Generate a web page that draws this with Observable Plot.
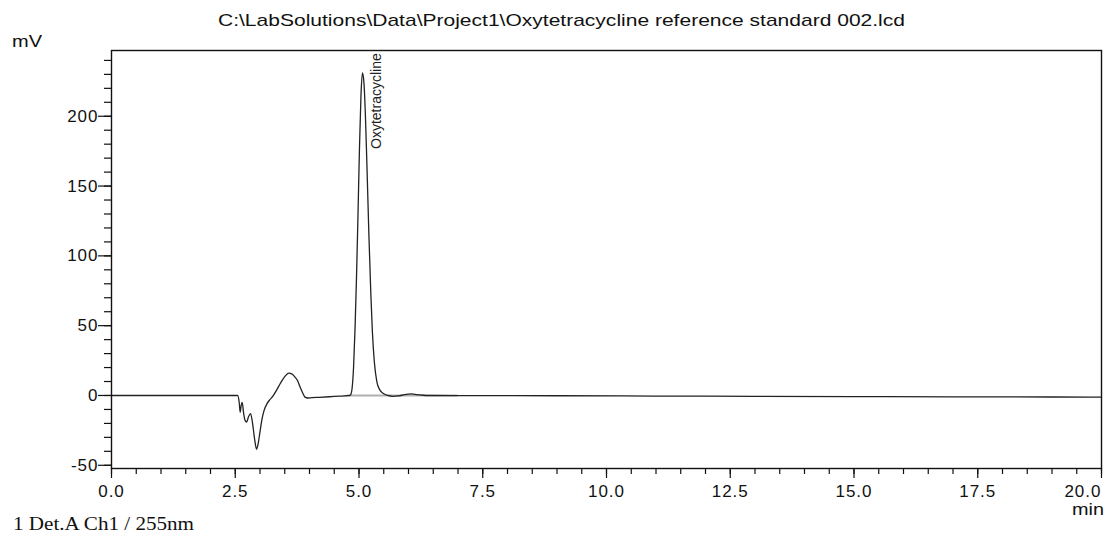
<!DOCTYPE html>
<html><head><meta charset="utf-8">
<script src="https://cdn.jsdelivr.net/npm/d3@7"></script>
<script src="https://cdn.jsdelivr.net/npm/@observablehq/plot@0.6"></script>
<style>
body{margin:0;background:#fff;}
#wrap{position:relative;width:1109px;height:536px;overflow:hidden;background:#fff;}
#wrap svg{position:absolute;left:0;top:0;}
g[aria-label$="tick label"] text{letter-spacing:1px;}
</style></head><body><div id="wrap"></div>
<script>
// ---- data ----
const titleText = "C:\\LabSolutions\\Data\\Project1\\Oxytetracycline reference standard 002.lcd";
const yUnit = "mV";
const xUnit = "min";
const caption = "1 Det.A Ch1 / 255nm";

const times = [0, 1.0, 2.0, 2.50, 2.55, 2.58, 2.60, 2.62, 2.64, 2.67, 2.70, 2.73, 2.77, 2.81, 2.85, 2.89, 2.93, 2.96, 3.00, 3.04, 3.08, 3.14, 3.20, 3.26, 3.33, 3.41, 3.50, 3.58, 3.64, 3.70, 3.76, 3.81, 3.86, 3.91, 3.96, 4.05, 4.20, 4.40, 4.60, 4.75, 4.80, 4.83, 4.86, 4.89, 4.92, 4.95, 4.98, 5.01, 5.04, 5.07, 5.10, 5.13, 5.16, 5.20, 5.24, 5.27, 5.31, 5.36, 5.42, 5.50, 5.58, 5.68, 5.80, 5.92, 6.05, 6.18, 6.35, 7.0, 9.0, 11.0, 13.0, 15.0, 17.0, 19.0, 20.0];
const signal = [0, 0, 0, 0, 0, -5, -12, -7, -5, -13, -18, -19, -15, -13, -20, -31, -38.5, -35, -26, -17, -11, -6, -3, -0.5, 3.5, 8.6, 13.5, 16, 15.5, 13.5, 10.5, 6, 2, -1.2, -1.8, -1.6, -1.3, -0.9, -0.5, -0.2, -0.1, 0.5, 5, 20, 48, 85, 130, 178, 215, 231, 224, 200, 165, 115, 72, 46, 24, 10, 4, 1.2, 0, -0.6, -0.3, 0.6, 1.1, 0.6, 0, -0.1, -0.2, -0.4, -0.6, -0.8, -1.0, -1.1, -1.2];

const peakNames = ["Oxytetracycline"];
const peakTimes = [5.07];
const peakHeights = [231];
const baselineFrom = [4.77];
const baselineTo = [7.0];

const xMajor = [0, 2.5, 5, 7.5, 10, 12.5, 15, 17.5];
const xLast = [20];
const yMajor = [-50, 0, 50, 100, 150, 200];
const xMinor = d3.range(0, 20.001, 0.5);
const yMinor = d3.range(-50, 241, 10);

// ---- tables ----
const trace = times.map((t, i) => ({t, v: signal[i]}));
const peaks = peakNames.map((name, i) => ({name, t: peakTimes[i], v: peakHeights[i]}));
const baselines = baselineFrom.map((a, i) => ({a, b: baselineTo[i], v: 0}));

const font = "'Liberation Sans', Arial, Helvetica, sans-serif";

const chart = Plot.plot({
  width: 1109, height: 536,
  marginLeft: 111, marginRight: 8, marginTop: 50, marginBottom: 68,
  x: {domain: [0, 20], axis: null, label: null},
  y: {domain: [-52.3, 247.1], axis: null, label: null},
  style: {fontFamily: font, fontSize: "17px", color: "#111", background: "transparent", overflow: "visible"},
  marks: [
    Plot.ruleY(baselines, {x1: "a", x2: "b", y: "v", stroke: "#b0b0b0", strokeWidth: 2}),
    Plot.line(trace, {x: "t", y: "v", stroke: "#222", strokeWidth: 1.3, curve: "monotone-x"}),
    Plot.text(peaks, {x: "t", y: "v", text: "name", rotate: -90, textAnchor: "start", dx: 14, dy: 76, fontSize: 14, fill: "#222"}),
    Plot.axisY(yMinor, {tickSize: 7, tickFormat: () => "", label: null, stroke: "#111", strokeWidth: 1.2}),
    Plot.axisY(yMajor, {tickSize: 13, tickPadding: 0, tickFormat: d => String(d), label: null, stroke: "#111", strokeWidth: 1.2, fontSize: 17, fill: "#111"}),
    Plot.axisX(xMinor, {tickSize: 6, tickFormat: () => "", label: null, stroke: "#111", strokeWidth: 1.2}),
    Plot.axisX(xMajor, {tickSize: 10, tickPadding: 6, tickFormat: d => d.toFixed(1), label: null, stroke: "#111", strokeWidth: 1.2, fontSize: 17, fill: "#111"}),
    Plot.axisX(xLast, {tickSize: 10, tickPadding: 6, tickFormat: d => d.toFixed(1), textAnchor: "end", label: null, stroke: "#111", strokeWidth: 1.2, fontSize: 17, fill: "#111"}),
    Plot.frame({stroke: "#111", strokeWidth: 1.4})
  ]
});
const wrap = document.getElementById("wrap");
wrap.appendChild(chart);

// ---- annotations (title, unit labels, caption) ----
const NS = "http://www.w3.org/2000/svg";
const ov = document.createElementNS(NS, "svg");
ov.setAttribute("width", 1109); ov.setAttribute("height", 536);
ov.style.pointerEvents = "none";
function addText(str, x, y, opts) {
  const t = document.createElementNS(NS, "text");
  t.textContent = str;
  t.setAttribute("x", x); t.setAttribute("y", y);
  t.setAttribute("font-family", opts.family || font);
  t.setAttribute("font-size", opts.size);
  t.setAttribute("fill", "#111");
  if (opts.anchor) t.setAttribute("text-anchor", opts.anchor);
  if (opts.len) { t.setAttribute("textLength", opts.len); t.setAttribute("lengthAdjust", "spacingAndGlyphs"); }
  ov.appendChild(t);
}
addText(titleText, 218, 26, {size: 17, len: 687});
addText(yUnit, 12, 47, {size: 17, len: 30});
addText(xUnit, 1104, 515, {size: 17, anchor: "end", len: 32});
addText(caption, 13, 530, {size: 18, family: "'Liberation Serif', 'Times New Roman', serif", len: 181});
wrap.appendChild(ov);
</script>
</body></html>
